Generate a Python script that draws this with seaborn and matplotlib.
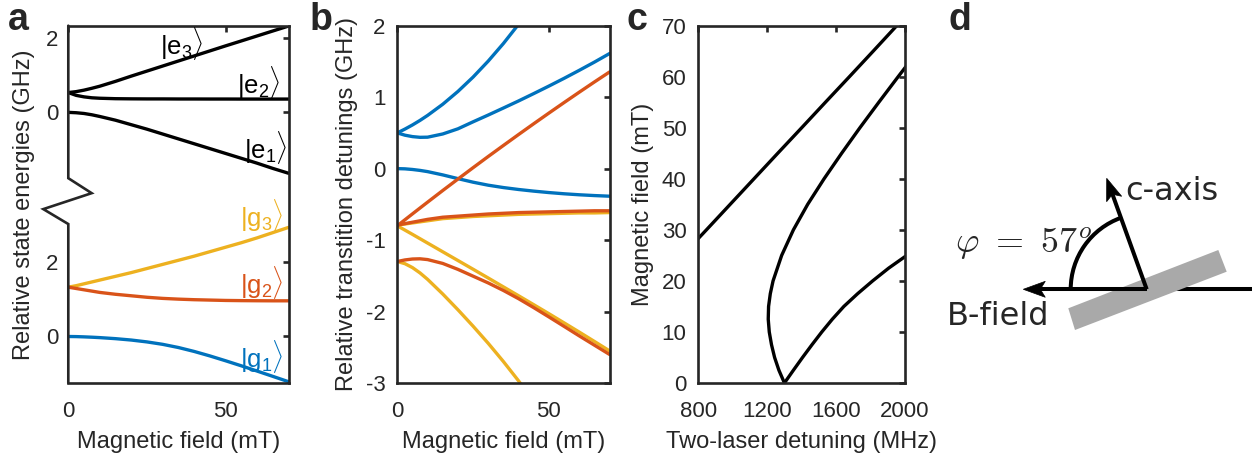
import numpy as np
import matplotlib
matplotlib.use("Agg")
import matplotlib.pyplot as plt
import seaborn as sns
from matplotlib.patches import Polygon, Arc

sns.set_theme(style="white")
plt.rcParams["font.family"] = ["Liberation Sans", "DejaVu Sans"]
plt.rcParams["axes.unicode_minus"] = False
plt.rcParams["mathtext.fontset"] = "custom"
plt.rcParams["mathtext.rm"] = "Liberation Sans"
plt.rcParams["mathtext.it"] = "Liberation Sans"

BLUE, RED, YELLOW, INK = "#0072BD", "#D95319", "#EDB120", "#262626"

# ---------------- data ----------------
# (a) level energies (GHz) versus magnetic field (mT)
field_a = [0, 2.5, 5, 7.5, 10, 15, 20, 25, 30, 35, 40, 45, 50, 55, 60, 65, 70]
e3 = [0.53, 0.555, 0.595, 0.645, 0.70, 0.83, 0.97, 1.105, 1.24, 1.375, 1.51, 1.645, 1.78, 1.912, 2.045, 2.178, 2.31]
e2 = [0.53, 0.455, 0.415, 0.39, 0.378, 0.366, 0.362, 0.36, 0.36, 0.358, 0.358, 0.357, 0.357, 0.356, 0.356, 0.356, 0.356]
e1 = [0.0, -0.01, -0.03, -0.065, -0.11, -0.21, -0.33, -0.45, -0.58, -0.71, -0.84, -0.97, -1.10, -1.23, -1.36, -1.50, -1.63]
g3 = [1.32, 1.36, 1.41, 1.46, 1.51, 1.61, 1.71, 1.82, 1.93, 2.04, 2.15, 2.27, 2.39, 2.51, 2.64, 2.78, 2.92]
g2 = [1.32, 1.285, 1.25, 1.215, 1.18, 1.13, 1.09, 1.05, 1.02, 1.0, 0.985, 0.975, 0.965, 0.96, 0.957, 0.955, 0.955]
g1 = [0.0, -0.003, -0.01, -0.019, -0.03, -0.058, -0.095, -0.145, -0.21, -0.295, -0.40, -0.52, -0.65, -0.785, -0.925, -1.067, -1.21]

# (b) optical transition detunings (GHz) versus magnetic field (mT)
field_b = [0, 2.5, 5, 7.5, 10, 15, 20, 25, 30, 35, 40, 45, 50, 55, 60, 65, 70]
tr_g1_e3 = [0.50, 0.553, 0.611, 0.675, 0.745, 0.901, 1.08, 1.281, 1.505, 1.751, 2.02]
tr_g1_e2 = [0.50, 0.468, 0.448, 0.438, 0.44, 0.485, 0.557, 0.655, 0.75, 0.848, 0.947, 1.05, 1.155, 1.263, 1.375, 1.49, 1.61]
tr_g1_e1 = [0.0, -0.003, -0.012, -0.025, -0.042, -0.088, -0.14, -0.19, -0.232, -0.265, -0.292, -0.315, -0.335, -0.352, -0.366, -0.377, -0.386]
tr_g2_e3 = [-0.80, -0.7165, -0.6335, -0.551, -0.469, -0.306, -0.146, 0.013, 0.170, 0.324, 0.477, 0.628, 0.777, 0.924, 1.069, 1.212, 1.352]
tr_g2_e2 = [-0.79, -0.77, -0.75, -0.73, -0.71, -0.68, -0.665, -0.65, -0.635, -0.625, -0.615, -0.61, -0.605, -0.60, -0.595, -0.59, -0.59]
tr_g2_e1 = [-1.30, -1.278, -1.265, -1.262, -1.273, -1.327, -1.41, -1.505, -1.60, -1.705, -1.82, -1.945, -2.075, -2.207, -2.34, -2.47, -2.60]
tr_g3_e3 = [-0.79, -0.775, -0.76, -0.745, -0.73, -0.70, -0.685, -0.67, -0.66, -0.65, -0.64, -0.635, -0.63, -0.625, -0.62, -0.62, -0.615]
tr_g3_e2 = [-0.80, -0.86, -0.92, -0.981, -1.042, -1.164, -1.286, -1.408, -1.531, -1.655, -1.779, -1.904, -2.03, -2.158, -2.287, -2.418, -2.55]
tr_g3_e1 = [-1.30, -1.33, -1.385, -1.46, -1.55, -1.755, -1.975, -2.205, -2.445, -2.70, -2.97, -3.26]

# (c) field at which the two-laser detuning matches a ground splitting
split32_field = [25, 30, 35, 40, 45, 50, 55, 60, 65, 70]
split32_mhz = [708, 847, 985, 1123, 1261, 1400, 1538, 1677, 1815, 1952]
split21_field = [0, 2.5, 5, 7.5, 10, 12.5, 15, 17.5, 20, 25, 30, 35, 40, 45, 50, 55, 60, 62.5]
split21_mhz = [1300, 1268, 1243, 1225, 1212, 1206, 1208, 1218, 1234, 1284, 1352, 1435, 1530, 1632, 1738, 1848, 1960, 2017]
split31_field = [0, 2.5, 5, 7.5, 10, 12.5, 15, 17.5, 20, 22.5, 25]
split31_mhz = [1300, 1352, 1405, 1460, 1517, 1578, 1645, 1725, 1812, 1905, 2010]

# ---------------- figure ----------------
W, H = 1260, 461
fig = plt.figure(figsize=(W / 100, H / 100), dpi=100)


def px_axes(left, right, top, bottom):
    return fig.add_axes([left / W, 1 - bottom / H, (right - left) / W, (bottom - top) / H])


LW = 2.4
TICK_FS, LABEL_FS = 16, 17


def style(ax, ypad=7.5):
    for s in ax.spines.values():
        s.set_color(INK)
        s.set_linewidth(1.9)
        s.set_visible(True)
    ax.tick_params(direction="in", length=4, width=1.9, color=INK, top=True, right=True,
                   labelsize=TICK_FS, labelcolor=INK)
    ax.tick_params(axis="x", pad=13)
    ax.tick_params(axis="y", pad=ypad)
    ax.grid(False)
    ax.set_facecolor("white")


def line(ax, x, y, color):
    n = min(len(x), len(y))
    sns.lineplot(x=list(x[:n]), y=list(y[:n]), ax=ax, color=color, linewidth=LW,
                 estimator=None, sort=False, legend=False)


# ---- panel a ----
E_OFFSET = 6.0
axa = px_axes(68.3, 288.5, 25.7, 383)
style(axa, ypad=7)
excited = [[v + E_OFFSET for v in s] for s in (e3, e2, e1)]
for s in excited:
    line(axa, field_a, s, "black")
line(axa, field_a, g3, YELLOW)
line(axa, field_a, g2, RED)
line(axa, field_a, g1, BLUE)
axa.set_xlim(0, 70)
axa.set_ylim(-1.245, 8.32)
axa.set_xticks([0, 50])
axa.set_yticks([0, 2, 6, 8])
axa.set_yticklabels(["0", "2", "0", "2"])
axa.set_xlabel("Magnetic field (mT)", fontsize=LABEL_FS, color=INK)
axa.set_ylabel("Relative state energies (GHz)", fontsize=LABEL_FS, color=INK)
axa.xaxis.set_label_coords(0.5, -0.135)
axa.yaxis.set_label_coords(-0.15, 0.5)
# broken left axis with a zig-zag
axa.spines["left"].set_visible(False)
tr = axa.get_yaxis_transform()
axa.plot([0, 0, 0.106, -0.1135, 0, 0], [8.32, 4.238, 3.837, 3.41, 3.01, -1.245],
         transform=tr, color=INK, lw=1.9, clip_on=False, solid_joinstyle="miter")
lab_kw = dict(fontsize=18.5, va="center")
axa.text(29.0, 7.85, r"$|\mathrm{e}_3\rangle$", color="black", ha="left", **lab_kw)
axa.text(67.5, 6.8, r"$|\mathrm{e}_2\rangle$", color="black", ha="right", **lab_kw)
axa.text(69.6, 5.06, r"$|\mathrm{e}_1\rangle$", color="black", ha="right", **lab_kw)
axa.text(68.5, 3.25, r"$|\mathrm{g}_3\rangle$", color=YELLOW, ha="right", **lab_kw)
axa.text(68.5, 1.44, r"$|\mathrm{g}_2\rangle$", color=RED, ha="right", **lab_kw)
axa.text(68.5, -0.54, r"$|\mathrm{g}_1\rangle$", color=BLUE, ha="right", **lab_kw)

# ---- panel b ----
axb = px_axes(397.3, 609.5, 25.7, 383)
style(axb, ypad=8.5)
for s in (tr_g1_e3, tr_g1_e2, tr_g1_e1):
    line(axb, field_b, s, BLUE)
for s in (tr_g3_e3, tr_g3_e2, tr_g3_e1):
    line(axb, field_b, s, YELLOW)
for s in (tr_g2_e3, tr_g2_e2, tr_g2_e1):
    line(axb, field_b, s, RED)
axb.set_xlim(0, 70)
axb.set_ylim(-3, 2)
axb.set_xticks([0, 50])
axb.set_yticks([-3, -2, -1, 0, 1, 2])
axb.set_xlabel("Magnetic field (mT)", fontsize=LABEL_FS, color=INK)
axb.set_ylabel("Relative transtition detunings (GHz)", fontsize=LABEL_FS, color=INK)
axb.xaxis.set_label_coords(0.5, -0.135)
axb.yaxis.set_label_coords(-0.185, 0.5)

# ---- panel c ----
axc = px_axes(698.3, 905, 25.7, 383)
style(axc, ypad=8.5)
line(axc, split32_mhz, split32_field, "black")
line(axc, split21_mhz, split21_field, "black")
line(axc, split31_mhz, split31_field, "black")
axc.set_xlim(800, 2000)
axc.set_ylim(0, 70)
axc.set_xticks([800, 1200, 1600, 2000])
axc.set_yticks(np.arange(0, 71, 10))
axc.set_xlabel("Two-laser detuning (MHz)", fontsize=LABEL_FS, color=INK)
axc.set_ylabel("Magnetic field (mT)", fontsize=LABEL_FS, color=INK)
axc.xaxis.set_label_coords(0.5, -0.135)
axc.yaxis.set_label_coords(-0.214, 0.5)

# ---- panel d: field / crystal-axis geometry sketch (pixel units, y up) ----
axd = fig.add_axes([940 / W, 0, 320 / W, 1])
axd.set_xlim(940, 1260)
axd.set_ylim(0, H)
axd.axis("off")
k = dict(color="black", lw=2.9, solid_capstyle="butt")
pivot = np.array([1146.7, 171.7])
axd.plot([pivot[0], 1251.7], [pivot[1], pivot[1]], **k, zorder=1)
axd.add_patch(Polygon([(1068.3, 152.7), (1218.3, 211.0), (1226.7, 189.3), (1075.0, 131.0)],
                      closed=True, facecolor="#A9A9A9", edgecolor="none", zorder=2))
axd.plot([1040, pivot[0]], [pivot[1], pivot[1]], **k, zorder=3)


def head(tip, direction, length=22, half=8, notch=5):
    u = np.asarray(direction, float)
    u = u / np.hypot(*u)
    n = np.array([-u[1], u[0]])
    tip = np.asarray(tip, float)
    base = tip - length * u
    pts = [tip, base + half * n, tip - (length - notch) * u, base - half * n]
    axd.add_patch(Polygon(pts, closed=True, facecolor="black", edgecolor="black", lw=0.5, zorder=4))


head((1023.3, pivot[1]), (-1, 0))
c_tip = np.array([1106.7, 282.7])
cdir = c_tip - pivot
axd.plot([pivot[0], c_tip[0] - 15 * cdir[0] / np.hypot(*cdir)],
         [pivot[1], c_tip[1] - 15 * cdir[1] / np.hypot(*cdir)], **k, zorder=3)
head(c_tip, cdir)
ang = np.degrees(np.arctan2(cdir[1], cdir[0]))
axd.add_patch(Arc(pivot, 152, 152, theta1=ang, theta2=180, color="black", lw=2.9, zorder=3))
axd.text(1125, 269.3, "c-axis", fontsize=23, family="DejaVu Sans", ha="left", va="center")
axd.text(946.7, 144.3, "B-field", fontsize=23, family="DejaVu Sans", ha="left", va="center")
axd.text(955, 207.7, r"$\varphi\ =\ 57^o$", fontsize=26, math_fontfamily="cm",
         ha="left", va="baseline")

# ---- panel letters ----
for x0, letter in [(8, "a"), (310, "b"), (627, "c"), (948, "d")]:
    fig.text(x0 / W, 1 - 30 / H, letter, fontsize=27, fontweight="bold", va="baseline", ha="left")

fig.savefig("out.png", dpi=100, facecolor="white")
